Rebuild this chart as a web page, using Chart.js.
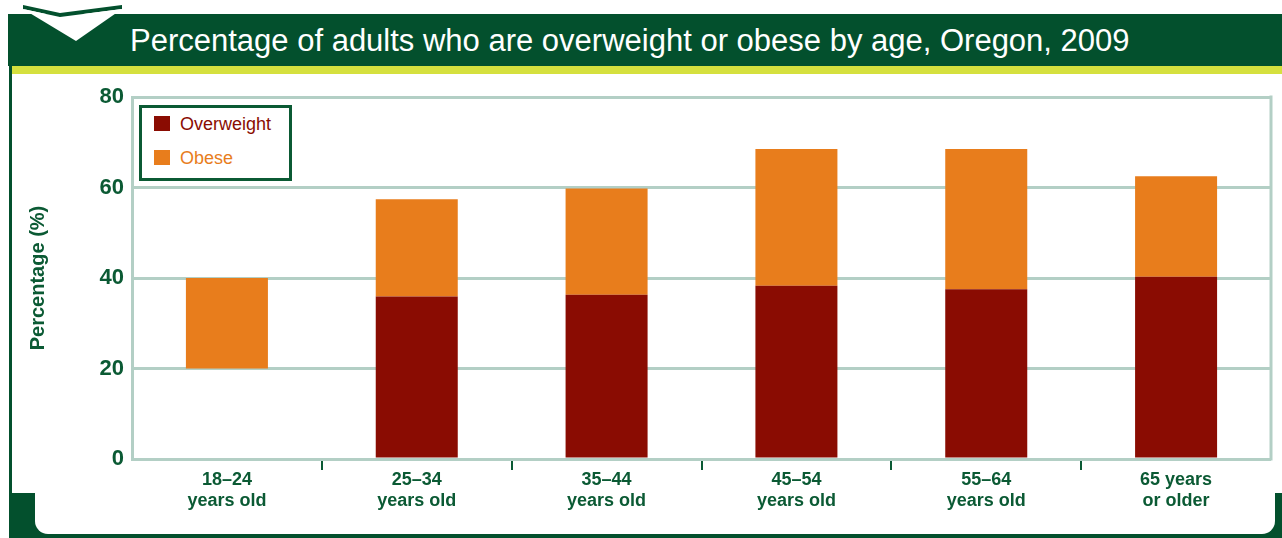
<!DOCTYPE html>
<html>
<head>
<meta charset="utf-8">
<script src="https://cdn.jsdelivr.net/npm/chart.js@4"></script>
<style>
  body { margin: 0; width: 1282px; height: 538px; overflow: hidden; background: #fff; position: relative; font-family: "Liberation Sans", Arial, sans-serif; }
  #faixa { position: absolute; left: 8px; top: 14px; width: 1274px; height: 52px; background: #03502d; }
  #amarelo { position: absolute; left: 10px; top: 66px; width: 1272px; height: 8px; background: #d5e03e; }
  #seta { position: absolute; left: 0; top: 0; }
  #titulo { position: absolute; left: 130px; top: 23px; color: #fff; font-size: 31px; line-height: 36px; white-space: nowrap; }
  #linha_esq { position: absolute; left: 9px; top: 66px; width: 3px; height: 430px; background: #03502d; }
  #rodape { position: absolute; left: 9px; top: 493px; width: 1273px; height: 45px; background: #03502d; }
  #painel { position: absolute; left: 35px; top: 470px; width: 1240px; height: 64px; background: #fff; border-radius: 0 0 13px 13px; }
  #wrap { position: absolute; left: 0; top: 0; width: 1282px; height: 538px; }
  #legenda { position: absolute; left: 139px; top: 105px; width: 147px; height: 70px; border: 3px solid #0b5a34; background: #fff; }
  .item { position: absolute; left: 12px; height: 20px; font-size: 18px; line-height: 20px; white-space: nowrap; }
  .item span { display: inline-block; width: 16px; height: 15px; margin-right: 10px; vertical-align: -1px; }
</style>
</head>
<body>
<div id="faixa"></div>
<div id="amarelo"></div>
<svg id="seta" width="140" height="60">
  <polygon points="23,5 60,13 122,5 122,9 60,17 23,9" fill="#03502d"/>
  <polygon points="23,9 76,41 122,9 60,17" fill="#ffffff"/>
</svg>
<div id="titulo">Percentage of adults who are overweight or obese by age, Oregon, 2009</div>
<div id="linha_esq"></div>
<div id="rodape"></div>
<div id="painel"></div>
<div id="wrap"><canvas id="grafico"></canvas></div>
<div id="legenda"></div>
<script>
var faixas_etarias = [['18\u201324', 'years old'], ['25\u201334', 'years old'], ['35\u201344', 'years old'], ['45\u201354', 'years old'], ['55\u201364', 'years old'], ['65 years', 'or older']]
var sobrepeso = [20, 35.9, 36.3, 38.3, 37.5, 40.3]
var obesos = [20, 21.5, 23.5, 30.2, 31.0, 22.2]
var nomes_series = ['Overweight', 'Obese']
var ticks_y = [0, 20, 40, 60, 80]

var verde = '#0b5a34'
var grade = '#b3cfc5'
var cor_sobrepeso = '#8a0c02'
var cor_obeso = '#e87d1c'

var moldura = {
    id: 'moldura',
    beforeDatasetsDraw: function (chart) {
        let ctx = chart.ctx
        let area = chart.chartArea
        ctx.save()
        ctx.strokeStyle = grade
        ctx.lineWidth = 3
        ctx.beginPath()
        ctx.moveTo(area.right, area.top - 1.5)
        ctx.lineTo(area.right, area.bottom + 1.5)
        ctx.stroke()
        ctx.restore()
    }
}

let contexto = document.getElementById('grafico').getContext('2d')
var meuGrafico = new Chart(contexto, {
    type: 'bar',
    data: {
        labels: faixas_etarias,
        datasets: [{
            label: nomes_series[0],
            data: sobrepeso,
            // the first bar of this series is blank in the original picture
            backgroundColor: sobrepeso.map(function (v, i) { return i == 0 ? 'rgba(0,0,0,0)' : cor_sobrepeso }),
            barPercentage: 0.432,
            categoryPercentage: 1
        }, {
            label: nomes_series[1],
            data: obesos,
            backgroundColor: cor_obeso,
            barPercentage: 0.432,
            categoryPercentage: 1
        }]
    },
    options: {
        responsive: true,
        maintainAspectRatio: false,
        animation: false,
        layout: { padding: { left: 0, top: 97, right: 11, bottom: 19 } },
        plugins: {
            legend: { display: false },
            tooltip: { enabled: false }
        },
        scales: {
            x: {
                stacked: true,
                offset: true,
                border: { display: false },
                grid: {
                    offset: true,
                    drawOnChartArea: false,
                    drawTicks: true,
                    tickLength: 11,
                    lineWidth: 2,
                    color: function (c) { return (c.index > 0 && c.index < faixas_etarias.length) ? verde : 'rgba(0,0,0,0)' }
                },
                ticks: {
                    color: verde,
                    padding: 0,
                    maxRotation: 0,
                    font: { family: '"Liberation Sans", Arial', size: 18, weight: 'bold', lineHeight: 1.15 }
                },
                afterFit: function (scale) { scale.height = 60 }
            },
            y: {
                stacked: true,
                min: 0,
                max: 80,
                afterBuildTicks: function (scale) { scale.ticks = ticks_y.map(function (v) { return { value: v } }) },
                border: { display: true, color: grade, width: 3 },
                grid: { color: grade, lineWidth: 3, drawTicks: false },
                ticks: {
                    color: verde,
                    padding: 8,
                    font: { family: '"Liberation Sans", Arial', size: 22, weight: 'bold' }
                },
                title: {
                    display: true,
                    text: 'Percentage (%)',
                    color: verde,
                    padding: { top: 26, bottom: 0 },
                    font: { family: '"Liberation Sans", Arial', size: 20, weight: 'bold' }
                },
                afterFit: function (scale) { scale.width = 132 }
            }
        }
    },
    plugins: [moldura]
})

// legenda em html, montada a partir dos datasets
let legenda = document.getElementById('legenda')
meuGrafico.data.datasets.forEach(function (ds, i) {
    let cor = i == 0 ? cor_sobrepeso : cor_obeso
    let item = document.createElement('div')
    item.className = 'item'
    item.style.top = (i == 0 ? 6 : 40) + 'px'
    item.style.color = cor
    item.innerHTML = '<span style="background:' + cor + '"></span>' + ds.label
    legenda.appendChild(item)
})
</script>
</body>
</html>
